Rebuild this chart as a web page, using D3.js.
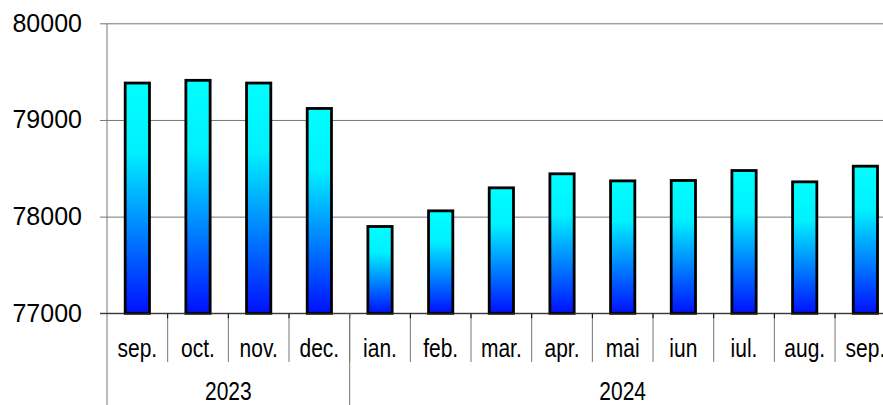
<!DOCTYPE html>
<html>
<head>
<meta charset="utf-8">
<script src="https://cdn.jsdelivr.net/npm/d3@7"></script>
<style>
  body { margin: 0; background: #fff; }
  svg { display: block; font-family: Arial, "Liberation Sans", sans-serif; }
</style>
</head>
<body>
<svg id="chart" width="883" height="405"></svg>
<script>
const months = ["sep.", "oct.", "nov.", "dec.", "ian.", "feb.", "mar.", "apr.", "mai", "iun", "iul.", "aug.", "sep."];
const values = [79382, 79410, 79382, 79119, 77898, 78060, 78298, 78443, 78370, 78374, 78477, 78360, 78522];
const years = ["2023", "2024"];
const yearSpan = [4, 9]; // months in each year
const yTicks = [77000, 78000, 79000, 80000];

const LEFT = 107;
const BAND = 60.67;
const TOP = 23.3;
const BOTTOM = 313.3;

const svg = d3.select("#chart");

// bar gradient, cyan on top to blue at the bottom
const grad = svg.append("defs").append("linearGradient")
  .attr("id", "barGrad")
  .attr("x1", 0).attr("y1", 0).attr("x2", 0).attr("y2", 1);
grad.append("stop").attr("offset", "0%").attr("stop-color", "#00ffff");
grad.append("stop").attr("offset", "30%").attr("stop-color", "#00f0ff");
grad.append("stop").attr("offset", "100%").attr("stop-color", "#0010ff");

const x = d3.scaleBand()
  .domain(d3.range(months.length))
  .range([LEFT, LEFT + BAND * months.length])
  .padding(0);

const y = d3.scaleLinear()
  .domain([77000, 80000])
  .range([BOTTOM, TOP]);

// gridlines
svg.append("g")
  .attr("transform", `translate(${LEFT},0)`)
  .call(d3.axisLeft(y).tickValues(yTicks).tickSize(-(883 - LEFT)).tickFormat(""))
  .call(g => g.select(".domain").remove())
  .call(g => g.selectAll("line").attr("stroke", "#777"));

// y axis with labels
svg.append("g")
  .attr("transform", `translate(${LEFT},0)`)
  .call(d3.axisLeft(y).tickValues(yTicks).tickFormat(d3.format("d"))
    .tickSize(7).tickPadding(18).tickSizeOuter(0))
  .call(g => g.select(".domain").remove())
  .call(g => g.selectAll("line").attr("stroke", "#777"))
  .call(g => g.selectAll("text")
    .attr("font-size", 25)
    .attr("font-family", "Arial, 'Liberation Sans', sans-serif")
    .attr("fill", "#000"));

// vertical axis line runs down through the category area
svg.append("line")
  .attr("x1", LEFT).attr("x2", LEFT)
  .attr("y1", TOP).attr("y2", 405)
  .attr("stroke", "#777");

// bars
const barW = x.bandwidth() * 0.4;
svg.append("g")
  .selectAll("rect")
  .data(values)
  .join("rect")
  .attr("x", (d, i) => x(i) + (x.bandwidth() - barW) / 2)
  .attr("y", d => y(d))
  .attr("width", barW)
  .attr("height", d => y(77000) - y(d))
  .attr("fill", "url(#barGrad)")
  .attr("stroke", "#000")
  .attr("stroke-width", 2.8);

// baseline
svg.append("line")
  .attr("x1", LEFT - 7).attr("x2", 883)
  .attr("y1", BOTTOM).attr("y2", BOTTOM)
  .attr("stroke", "#222");

// month dividers
const bounds = d3.range(1, months.length + 1).map(i => LEFT + BAND * i);
svg.append("g")
  .selectAll("line")
  .data(bounds)
  .join("line")
  .attr("x1", d => d).attr("x2", d => d)
  .attr("y1", BOTTOM).attr("y2", 362)
  .attr("stroke", "#777");
svg.append("g")
  .selectAll("line")
  .data(bounds)
  .join("line")
  .attr("x1", d => d).attr("x2", d => d)
  .attr("y1", BOTTOM).attr("y2", BOTTOM + 5)
  .attr("stroke", "#000");

// month labels (narrow face)
svg.append("g")
  .selectAll("text")
  .data(months)
  .join("text")
  .attr("transform", (d, i) => `translate(${x(i) + x.bandwidth() / 2},356.5) scale(0.84,1)`)
  .attr("text-anchor", "middle")
  .attr("font-size", 25)
  .attr("fill", "#000")
  .text(d => d);

// year groups
const yearStart = yearSpan.map((n, i) => d3.sum(yearSpan.slice(0, i)));
svg.append("g")
  .selectAll("line")
  .data(yearStart.slice(1))
  .join("line")
  .attr("x1", d => x(d)).attr("x2", d => x(d))
  .attr("y1", BOTTOM).attr("y2", 405)
  .attr("stroke", "#777");

svg.append("g")
  .selectAll("text")
  .data(years)
  .join("text")
  .attr("transform", (d, i) => {
    const a = x(yearStart[i]);
    const b = x(yearStart[i]) + BAND * yearSpan[i];
    return `translate(${(a + b) / 2},400) scale(0.84,1)`;
  })
  .attr("text-anchor", "middle")
  .attr("font-size", 25)
  .attr("fill", "#000")
  .text(d => d);
</script>
</body>
</html>
